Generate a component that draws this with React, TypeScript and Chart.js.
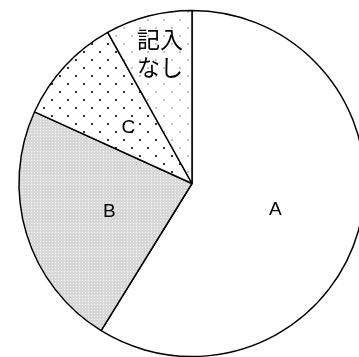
import React, { useEffect, useRef } from "react";
import { Chart, registerables } from "chart.js";

Chart.register(...registerables);

const categories = ["A", "B", "C", "記入なし"];
const values = [58.8, 23.0, 10.1, 8.1];
const labelLines = [["A"], ["B"], ["C"], ["記入", "なし"]];
const labelRadiusFactor = [0.5, 0.5, 0.5, 0.78];

function makePattern(kind: string): CanvasPattern | string {
  const c = document.createElement("canvas");
  const ctx = c.getContext("2d")!;
  if (kind === "white") return "#ffffff";
  if (kind === "checker") {
    c.width = 3;
    c.height = 3;
    ctx.fillStyle = "#d8d8d8";
    ctx.fillRect(0, 0, 3, 3);
    ctx.fillStyle = "#f4f4f4";
    ctx.fillRect(1, 1, 1, 1);
  } else {
    c.width = 16;
    c.height = 16;
    ctx.fillStyle = "#ffffff";
    ctx.fillRect(0, 0, 16, 16);
    ctx.fillStyle = kind === "dark" ? "#333333" : "#c4c4c4";
    ctx.fillRect(3, 3, 2, 2);
    ctx.fillRect(11, 11, 2, 2);
  }
  return ctx.createPattern(c, "repeat")!;
}

const labelPlugin = {
  id: "sliceLabels",
  afterDatasetsDraw(chart: any) {
    const ctx = chart.ctx;
    const meta = chart.getDatasetMeta(0);
    ctx.save();
    ctx.fillStyle = "#000";
    ctx.textAlign = "center";
    ctx.textBaseline = "middle";
    meta.data.forEach((arc: any, i: number) => {
      const p = arc.getProps(["x", "y", "startAngle", "endAngle", "outerRadius"], true);
      const mid = (p.startAngle + p.endAngle) / 2;
      const r = p.outerRadius * labelRadiusFactor[i];
      const lines = labelLines[i];
      const cjk = /[^\x00-\x7f]/.test(lines.join(""));
      const cx = p.x + Math.cos(mid) * r + (cjk ? 2 : 0);
      const cy = p.y + Math.sin(mid) * r + (cjk ? 0 : 3);
      ctx.font = cjk ? '23px "Noto Sans CJK JP"' : '19px "Liberation Sans"';
      const lh = 28;
      lines.forEach((t, k) => {
        ctx.fillText(t, cx, cy + (k - (lines.length - 1) / 2) * lh);
      });
    });
    ctx.restore();
  },
};

export default function App() {
  const ref = useRef<HTMLCanvasElement>(null);
  useEffect(() => {
    const fills = [makePattern("white"), makePattern("checker"), makePattern("dark"), makePattern("light")];
    const chart = new Chart(ref.current!, {
      type: "pie",
      data: {
        labels: categories,
        datasets: [
          {
            data: values,
            backgroundColor: fills as any,
            borderColor: "#000",
            borderWidth: 1.5,
          },
        ],
      },
      options: {
        responsive: false,
        animation: false,
        radius: 173,
        layout: { padding: 0 },
        plugins: {
          legend: { display: false },
          tooltip: { enabled: false },
        },
      } as any,
      plugins: [labelPlugin],
    });
    return () => chart.destroy();
  }, []);
  return (
    <div style={{ position: "fixed", left: 0, top: 0, width: 359, height: 357, overflow: "hidden", background: "#fff" }}>
      <canvas ref={ref} width={384} height={367} style={{ display: "block", width: 384, height: 367 }} />
    </div>
  );
}
